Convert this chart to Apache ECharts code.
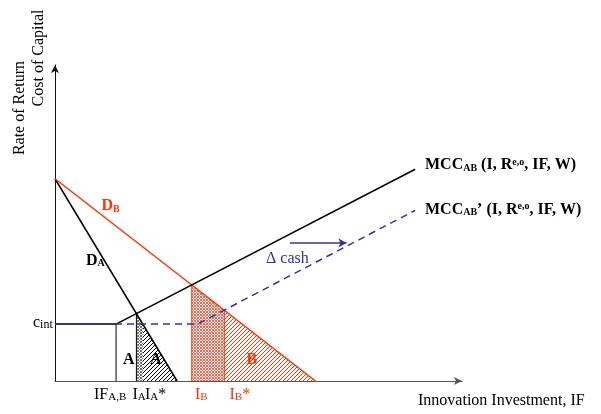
<!DOCTYPE html>
<html>
<head>
<meta charset="utf-8">
<script src="https://cdn.jsdelivr.net/npm/echarts@6/dist/echarts.min.js"></script>
<style>
  html, body { margin: 0; padding: 0; background: #fff; }
  #chart { width: 601px; height: 414px; }
</style>
</head>
<body>
<div id="chart"></div>
<script>
  // curves (x: investment, y: rate / cost)
  const demandA = [[0, 64], [30, 0]]
  const demandB = [[0, 64], [64, 0]]
  const mccLine = [[0, 18], [15, 18], [88.5, 67]]
  const mccShifted = [[0, 18], [35, 18], [88.5, 54]]
  // shaded regions under the demand curves
  const regionAPrime = [[20, 21.3], [21.6, 18]]
  const regionA = [[21.6, 18], [30, 0]]
  const regionBPrime = [[33.6, 30.4], [41.6, 22.4]]
  const regionB = [[41.6, 22.4], [64, 0]]
  // drop lines
  const lineIF = [[15, 0], [15, 18]]
  const lineIA = [[20, 0], [20, 21.3]]
  const lineIB = [[33.6, 0], [33.6, 30.4]]
  const lineIBstar = [[41.6, 0], [41.6, 22.4]]
  // shift arrows
  const arrowA = [[19.8, -8.4], [22.9, -8.4]]
  const arrowB = [[34.2, -8.2], [42.6, -8.2]]
  const arrowCash = [[57.7, 43.7], [71.6, 43.7]]

  const RED = '#ff3300'
  const BLUE = '#333399'
  const FONT = '"Liberation Serif", "Times New Roman", serif'

  function hatch(color, size) {
    let c = document.createElement('canvas')
    c.width = c.height = size
    let g = c.getContext('2d')
    g.strokeStyle = color
    g.lineWidth = 1
    g.beginPath()
    g.moveTo(0, size); g.lineTo(size, 0)
    g.moveTo(-1, 1); g.lineTo(1, -1)
    g.moveTo(size - 1, size + 1); g.lineTo(size + 1, size - 1)
    g.stroke()
    return c
  }
  // fine cross-hatch: an X in a 3x3 tile
  function cross(color) {
    let c = document.createElement('canvas')
    c.width = c.height = 3
    let g = c.getContext('2d')
    g.fillStyle = '#fff'
    g.fillRect(0, 0, 3, 3)
    g.fillStyle = color
    ;[[0, 0], [2, 0], [1, 1], [0, 2], [2, 2]].forEach(p => g.fillRect(p[0], p[1], 1, 1))
    return c
  }

  const line = (data, color, width, type) => ({
    type: 'line', data: data, symbol: 'none', silent: true,
    lineStyle: { color: color, width: width, type: type || 'solid' }
  })
  const area = (data, pattern) => ({
    type: 'line', data: data, symbol: 'none', silent: true,
    lineStyle: { width: 0 },
    areaStyle: { color: { image: pattern, repeat: 'repeat' }, opacity: 1 }
  })
  const arrow = (pts, color) => ({
    type: 'line', data: [], clip: false, silent: true,
    markLine: {
      silent: true, symbol: ['none', 'arrow'], symbolSize: [7, 8],
      label: { show: false },
      lineStyle: { color: color, width: 1.5, type: 'solid' },
      data: [[{ coord: pts[0] }, { coord: pts[1] }]]
    }
  })

  const rich = (size, subSize, color, bold) => ({
    sub: { fontSize: subSize, lineHeight: subSize, verticalAlign: 'bottom', fill: color, fontFamily: FONT, fontWeight: bold ? 'bold' : 'normal' },
    sup: { fontSize: subSize, lineHeight: subSize, verticalAlign: 'top', fill: color, fontFamily: FONT, fontWeight: bold ? 'bold' : 'normal' }
  })
  const txt = (x, y, text, opt) => {
    opt = opt || {}
    let size = opt.size || 16
    let color = opt.color || '#000'
    return {
      type: 'text', x: x, y: y, rotation: opt.rotation || 0, silent: true,
      style: {
        text: text, fill: color,
        font: (opt.bold ? 'bold ' : '') + size + 'px ' + FONT,
        align: opt.align || 'left', verticalAlign: 'middle',
        rich: rich(size, opt.sub || size - 6, color, opt.bold)
      }
    }
  }

  let chart = echarts.init(document.getElementById('chart'))
  chart.setOption({
    animation: false,
    backgroundColor: '#fff',
    grid: { left: 55, top: 65, width: 407, height: 316 },
    xAxis: {
      type: 'value', min: 0, max: 100,
      axisLine: { symbol: ['none', 'arrow'], symbolSize: [6, 8], lineStyle: { color: '#555', width: 1 } },
      axisTick: { show: false }, axisLabel: { show: false }, splitLine: { show: false }
    },
    yAxis: {
      type: 'value', min: 0, max: 100,
      axisLine: { show: true, symbol: ['none', 'arrow'], symbolSize: [6, 8], lineStyle: { color: '#111', width: 1 } },
      axisTick: { show: false }, axisLabel: { show: false }, splitLine: { show: false }
    },
    series: [
      area(regionAPrime, cross('#777')),
      area(regionA, hatch('#000', 4)),
      area(regionBPrime, cross('#ff6048')),
      area(regionB, hatch(RED, 4)),
      line(lineIF, '#000', 1),
      line(lineIA, '#000', 1),
      line(lineIB, RED, 1),
      line(lineIBstar, RED, 1),
      line(demandA, '#000', 1.5),
      line(demandB, RED, 1.5),
      line(mccLine, '#000', 1.5),
      line(mccShifted, BLUE, 1.5, [7, 5]),
      arrow(arrowA, '#000'),
      arrow(arrowB, RED),
      arrow(arrowCash, BLUE)
    ],
    graphic: [
      txt(20, 108, 'Rate of Return', { rotation: Math.PI / 2, align: 'center' }),
      txt(39, 58, 'Cost of Capital', { rotation: Math.PI / 2, align: 'center' }),
      txt(33, 322.6, 'c{sub|int}', { sub: 12 }),
      txt(425, 165.3, 'MCC{sub|AB} (I, R{sup|e,o}, IF, W)', { bold: true }),
      txt(425, 209.6, 'MCC{sub|AB}’ (I, R{sup|e,o}, IF, W)', { bold: true }),
      txt(101.5, 206.3, 'D{sub|B}', { bold: true, color: RED }),
      txt(86, 260.6, 'D{sub|A}', { bold: true }),
      txt(266, 258.6, 'Δ cash', { color: BLUE }),
      txt(123, 360.3, 'A‘', { bold: true }),
      txt(150, 360.3, 'A', { bold: true }),
      txt(201.5, 360.3, 'B‘', { bold: true, color: RED }),
      txt(246.5, 360.3, 'B', { bold: true, color: RED }),
      txt(94, 394.6, 'IF{sub|A,B}', { sub: 11 }),
      txt(132.5, 394.6, 'I{sub|A}', { sub: 11 }),
      txt(145, 394.6, 'I{sub|A}*', { sub: 11 }),
      txt(195, 394.6, 'I{sub|B}', { color: RED, sub: 11 }),
      txt(229.5, 394.6, 'I{sub|B}*', { color: RED, sub: 11 }),
      txt(418, 400.6, 'Innovation Investment, IF')
    ]
  })
</script>
</body>
</html>
